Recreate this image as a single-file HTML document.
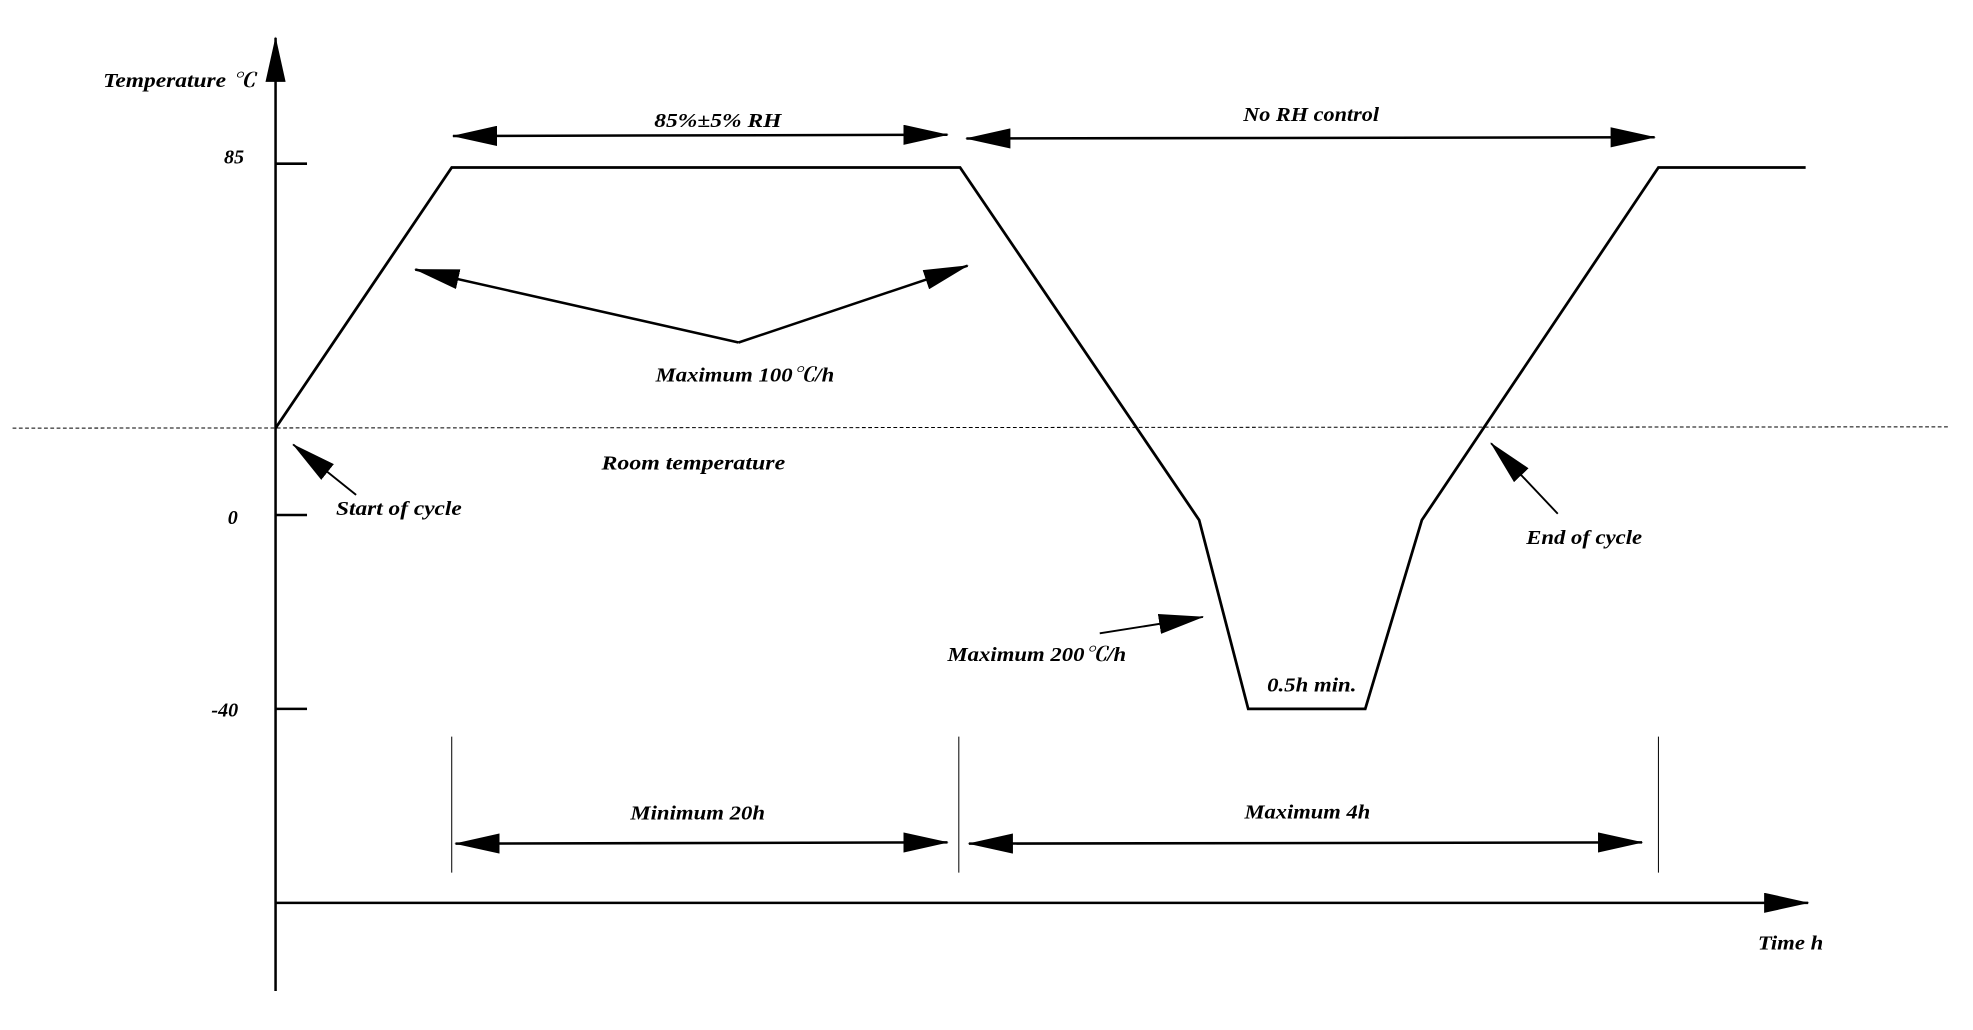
<!DOCTYPE html>
<html><head><meta charset="utf-8"><style>html,body{margin:0;padding:0;background:#fff}svg{display:block}text{font-family:"Liberation Serif","Noto Serif CJK SC",serif;font-weight:bold;font-style:italic;font-size:16px;fill:#000}</style></head><body>
<svg width="1973" height="1030" viewBox="0 0 1568 818" preserveAspectRatio="none" xmlns="http://www.w3.org/2000/svg">
<defs>
<marker id="b" viewBox="0 0 36 16" markerWidth="36" markerHeight="16" refX="35" refY="8" orient="auto" markerUnits="userSpaceOnUse"><path d="M0,0 L36,8 L0,16 Z"/></marker>
<marker id="bs" viewBox="0 0 36 16" markerWidth="36" markerHeight="16" refX="1" refY="8" orient="auto" markerUnits="userSpaceOnUse"><path d="M36,0 L0,8 L36,16 Z"/></marker></defs>
<g stroke="#000" fill="none">
<line x1="219" y1="787" x2="219" y2="30" stroke-width="2" marker-end="url(#b)"/>
<line x1="219" y1="717" x2="1437" y2="717" stroke-width="2" marker-end="url(#b)"/>
<line x1="219" y1="130" x2="244" y2="130" stroke-width="2"/>
<line x1="219" y1="409" x2="244" y2="409" stroke-width="2"/>
<line x1="219" y1="563" x2="244" y2="563" stroke-width="2"/>
<line x1="10" y1="340" x2="1550" y2="339" stroke-width="0.8" stroke-dasharray="3,2"/>
<polyline points="219,340 359,133 763,133 953,413 992,563 1085,563 1130,413 1318,133 1435,133" stroke-width="2.2"/>
<line x1="359" y1="585" x2="359" y2="693" stroke-width="0.8"/>
<line x1="762" y1="585" x2="762" y2="693" stroke-width="0.8"/>
<line x1="1318" y1="585" x2="1318" y2="693" stroke-width="0.8"/>
<line x1="360" y1="108" x2="753" y2="107" stroke-width="2" marker-start="url(#bs)" marker-end="url(#b)"/>
<line x1="768" y1="110" x2="1315" y2="109" stroke-width="2" marker-start="url(#bs)" marker-end="url(#b)"/>
<line x1="362" y1="670" x2="753" y2="669" stroke-width="2" marker-start="url(#bs)" marker-end="url(#b)"/>
<line x1="770" y1="670" x2="1305" y2="669" stroke-width="2" marker-start="url(#bs)" marker-end="url(#b)"/>
<line x1="587" y1="272" x2="330" y2="214" stroke-width="2" marker-end="url(#b)"/>
<line x1="587" y1="272" x2="769" y2="211" stroke-width="2" marker-end="url(#b)"/>
<line x1="874" y1="503" x2="956" y2="490" stroke-width="1.5" marker-end="url(#b)"/>
<line x1="283" y1="393" x2="233" y2="353" stroke-width="1.5" marker-end="url(#b)"/>
<line x1="1238" y1="408" x2="1185" y2="352" stroke-width="1.5" marker-end="url(#b)"/>
</g>
<text x="82" y="69" textLength="121" lengthAdjust="spacingAndGlyphs">Temperature ℃</text>
<text x="178" y="130">85</text>
<text x="181" y="416">0</text>
<text x="168" y="569">-40</text>
<text x="520" y="101" textLength="101" lengthAdjust="spacingAndGlyphs">85%±5% RH</text>
<text x="988" y="96" textLength="108" lengthAdjust="spacingAndGlyphs">No RH control</text>
<text x="521" y="303" textLength="142" lengthAdjust="spacingAndGlyphs">Maximum 100℃/h</text>
<text x="478" y="373" textLength="146" lengthAdjust="spacingAndGlyphs">Room temperature</text>
<text x="267" y="409" textLength="100" lengthAdjust="spacingAndGlyphs">Start of cycle</text>
<text x="1213" y="432" textLength="92" lengthAdjust="spacingAndGlyphs">End of cycle</text>
<text x="753" y="525" textLength="142" lengthAdjust="spacingAndGlyphs">Maximum 200℃/h</text>
<text x="1007" y="549" textLength="71" lengthAdjust="spacingAndGlyphs">0.5h min.</text>
<text x="501" y="651" textLength="107" lengthAdjust="spacingAndGlyphs">Minimum 20h</text>
<text x="989" y="650" textLength="100" lengthAdjust="spacingAndGlyphs">Maximum 4h</text>
<text x="1397" y="754" textLength="52" lengthAdjust="spacingAndGlyphs">Time h</text>
</svg>
</body></html>
